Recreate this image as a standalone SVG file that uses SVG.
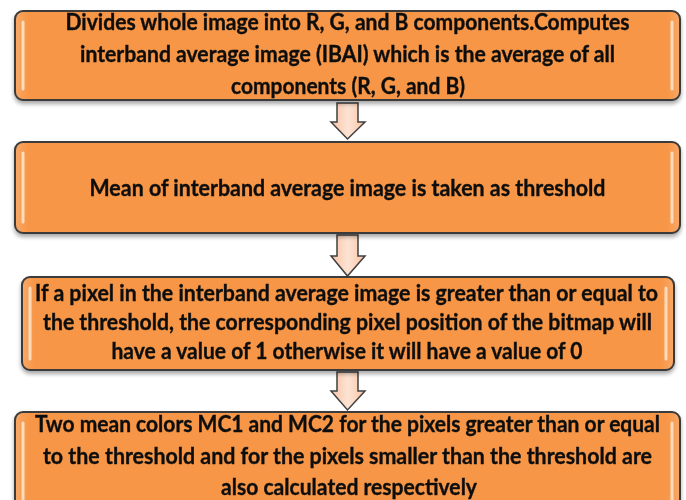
<svg xmlns="http://www.w3.org/2000/svg" width="686" height="500" viewBox="0 0 686 500">
<defs>
<linearGradient id="boxfill" x1="0" y1="0" x2="1" y2="0">
<stop offset="0" stop-color="#f8a868"/>
<stop offset="0.02" stop-color="#f79646"/>
<stop offset="0.98" stop-color="#f79646"/>
<stop offset="1" stop-color="#f8a868"/>
</linearGradient>
<linearGradient id="arrowfill" x1="0" y1="0" x2="1" y2="0">
<stop offset="0" stop-color="#f9c3a4"/>
<stop offset="0.5" stop-color="#fde3d4"/>
<stop offset="1" stop-color="#f9c3a4"/>
</linearGradient>
<filter id="shadow" x="-5%" y="-10%" width="110%" height="130%">
<feGaussianBlur in="SourceAlpha" stdDeviation="2"/>
<feOffset dx="0" dy="3" result="b"/>
<feComponentTransfer><feFuncA type="linear" slope="0.35"/></feComponentTransfer>
<feMerge><feMergeNode/><feMergeNode in="SourceGraphic"/></feMerge>
</filter>
</defs>
<style>
.box{fill:url(#boxfill);stroke:#3a3a3a;stroke-width:2}
.hl{stroke:#fde2c8;stroke-width:3;stroke-linecap:round;opacity:0.9}
.t{font-family:Lato,"Open Sans","Liberation Sans",sans-serif;font-weight:bold;font-size:21px;fill:#111;stroke:#111;stroke-width:0.35;text-anchor:middle}
.arr{fill:url(#arrowfill);stroke:#404040;stroke-width:1.5;stroke-linejoin:miter}
</style>
<rect width="686" height="500" fill="#ffffff"/>

<g id="connectors">
<path class="arr" d="M337,103 H358 V122 H365 L347.5,139 L331,122 H337 Z"/>
<path class="arr" d="M337,235 H358 V256 H365 L347.5,276 L331,256 H337 Z"/>
<path class="arr" d="M337,372 H358 V391 H365 L347.5,410 L331,391 H337 Z"/>
</g>

<g id="node1" filter="url(#shadow)">
<rect class="box" x="15" y="11" width="665" height="89" rx="8"/>
<line class="hl" x1="23" y1="22" x2="23" y2="89"/>
<line class="hl" x1="672" y1="22" x2="672" y2="89"/>
<text class="t" transform="translate(347.5,30) scale(1,1.1)" textLength="564" lengthAdjust="spacingAndGlyphs">Divides whole image into R, G, and B components.Computes</text>
<text class="t" transform="translate(347.5,62) scale(1,1.1)" textLength="535" lengthAdjust="spacingAndGlyphs">interband average image (IBAI) which is the average of all</text>
<text class="t" transform="translate(348,94) scale(1,1.1)" textLength="234" lengthAdjust="spacingAndGlyphs">components (R, G, and B)</text>
</g>

<g id="node2" filter="url(#shadow)">
<rect class="box" x="15" y="142" width="665" height="91" rx="8"/>
<line class="hl" x1="23" y1="153" x2="23" y2="222"/>
<line class="hl" x1="672" y1="153" x2="672" y2="222"/>
<text class="t" transform="translate(347.5,196) scale(1,1.1)" textLength="516" lengthAdjust="spacingAndGlyphs">Mean of interband average image is taken as threshold</text>
</g>

<g id="node3" filter="url(#shadow)">
<rect class="box" x="22" y="277" width="652" height="93" rx="8"/>
<line class="hl" x1="30" y1="288" x2="30" y2="359"/>
<line class="hl" x1="666" y1="288" x2="666" y2="359"/>
<text class="t" transform="translate(346.5,301) scale(1,1.1)" textLength="623" lengthAdjust="spacingAndGlyphs">If a pixel in the interband average image is greater than or equal to</text>
<text class="t" transform="translate(347.5,330) scale(1,1.1)" textLength="609" lengthAdjust="spacingAndGlyphs">the threshold, the corresponding pixel position of the bitmap will</text>
<text class="t" transform="translate(347,359) scale(1,1.1)" textLength="471" lengthAdjust="spacingAndGlyphs">have a value of 1 otherwise it will have a value of 0</text>
</g>

<g id="node4" filter="url(#shadow)">
<rect class="box" x="15" y="412" width="665" height="100" rx="8"/>
<line class="hl" x1="23" y1="423" x2="23" y2="500"/>
<line class="hl" x1="672" y1="423" x2="672" y2="500"/>
<text class="t" transform="translate(347.5,432) scale(1,1.1)" textLength="625" lengthAdjust="spacingAndGlyphs">Two mean colors MC1 and MC2 for the pixels greater than or equal</text>
<text class="t" transform="translate(347.5,464) scale(1,1.1)" textLength="609" lengthAdjust="spacingAndGlyphs">to the threshold and for the pixels smaller than the threshold are</text>
<text class="t" transform="translate(349,495) scale(1,1.1)" textLength="256" lengthAdjust="spacingAndGlyphs">also calculated respectively</text>
</g>
</svg>
